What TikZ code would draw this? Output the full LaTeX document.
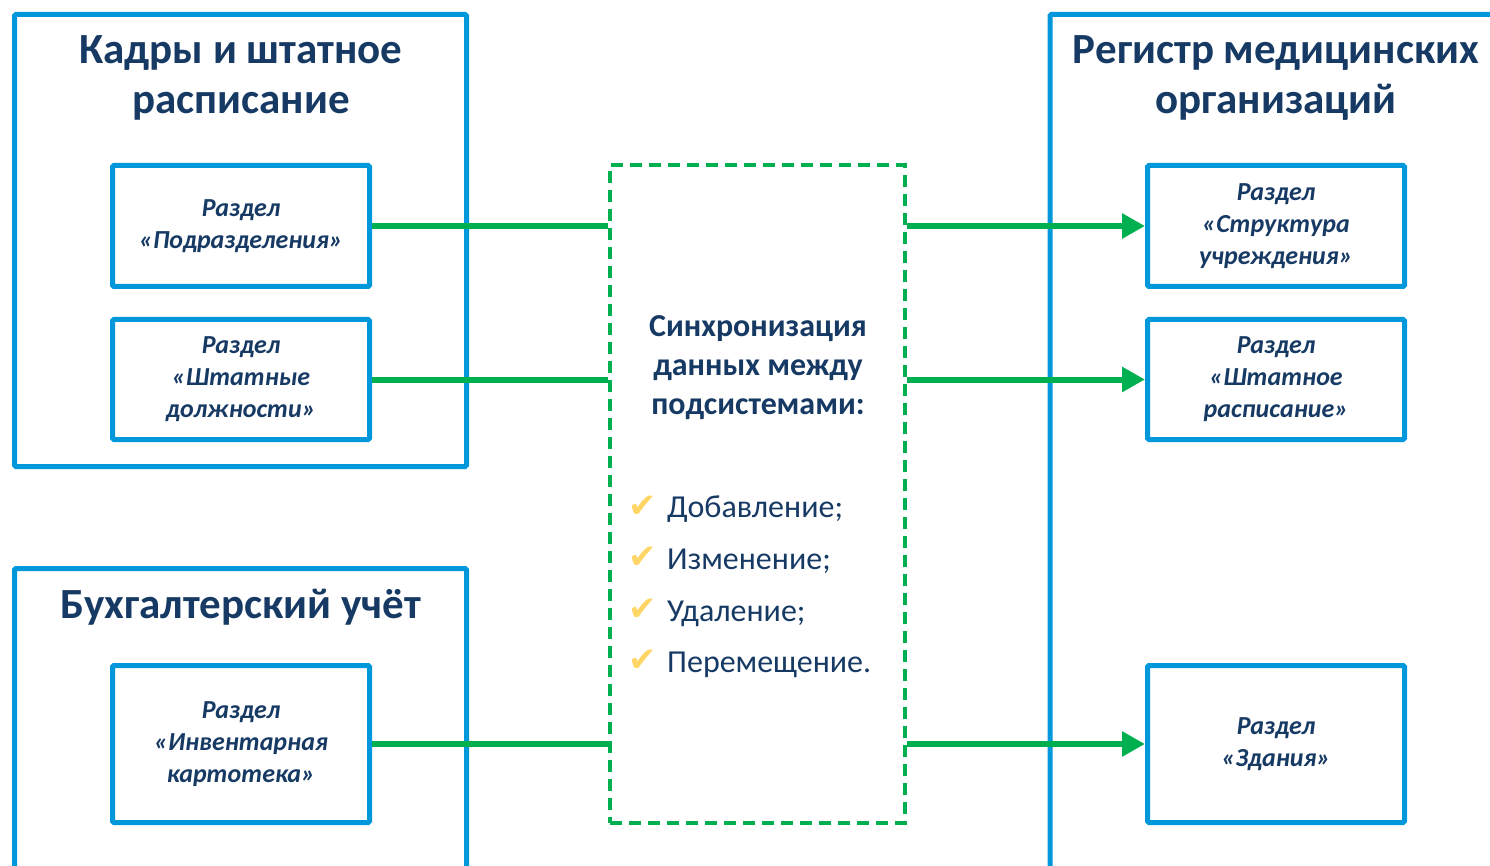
\documentclass[tikz,border=0pt]{standalone}
\usepackage{fontspec}
\setmainfont{Carlito}
\newfontfamily\symfont{DejaVu Sans}
\usetikzlibrary{arrows.meta}

\definecolor{boxblue}{RGB}{0,152,218}
\definecolor{textblue}{RGB}{22,58,100}
\definecolor{linkgreen}{RGB}{0,176,80}
\definecolor{tickyellow}{RGB}{255,214,102}

\tikzset{
  system/.style={draw=boxblue, line width=5pt, rounded corners=1.5pt, inner sep=0pt},
  section/.style={draw=boxblue, line width=5pt, rounded corners=1.5pt, minimum width=257pt,
    text width=245pt, align=center, inner sep=0pt, text=textblue,
    font=\fontsize{26}{32}\selectfont\bfseries\itshape},
  systitle/.style={align=center, text=textblue, font=\fontsize{43}{50}\selectfont\bfseries},
  syncbox/.style={draw=linkgreen, line width=4.5pt, dash pattern=on 12pt off 7pt,
    minimum width=295pt, minimum height=658pt, inner sep=0pt},
  synctitle/.style={align=center, text=textblue, font=\fontsize{32}{39}\selectfont\bfseries},
  item/.style={anchor=mid west, inner sep=0pt, text=textblue, font=\fontsize{32}{36}\selectfont},
  tick/.style={text=tickyellow, inner sep=0pt, font=\symfont\fontsize{34}{34}\selectfont},
  link/.style={draw=linkgreen, line width=6pt},
  linkarrow/.style={link, -{Triangle[length=23pt,width=24pt]}}
}

\begin{document}
\begin{tikzpicture}[x=1pt,y=-1pt]

	\clip (0,0) rectangle (1490,866);

	% subsystems
	\node[system, minimum width=452pt, minimum height=452pt] (kadry) at (240.5,240.5) {};
	\node[system, minimum width=452pt, minimum height=321pt] (buh) at (240.5,729) {};
	\node[system, minimum width=460pt, minimum height=875pt] (reg) at (1280,452) {};

	\node[systitle] (kadrytitle) at (241,78) {Кадры и штатное\\расписание};
	\node[systitle] (buhtitle) at (241,607) {Бухгалтерский учёт};
	\node[systitle] (regtitle) at (1276,78) {Регистр медицинских\\организаций};

	% sections
	\node[section, minimum height=121pt] (podr) at (241,226) {Раздел\\«Подразделения»};
	\node[section, minimum height=120pt] (shtat) at (241,379.5) {Раздел\\«Штатные\\должности»};
	\node[section, minimum height=157pt] (inv) at (241,744) {Раздел\\«Инвентарная\\картотека»};

	\node[section, minimum height=121pt] (struct) at (1276,226) {Раздел\\«Структура\\учреждения»};
	\node[section, minimum height=120pt] (shtrasp) at (1276,379.5) {Раздел\\«Штатное\\расписание»};
	\node[section, minimum height=157pt] (zdan) at (1276,744) {Раздел\\«Здания»};

	% synchronisation
	\node[syncbox] (sync) at (757.5,494) {};
	\node[synctitle] (synctext) at (758,368) {Синхронизация\\данных между\\подсистемами:};

	\node[tick] (t1) at (643,507) {✔};
	\node[tick] (t2) at (643,558) {✔};
	\node[tick] (t3) at (643,610) {✔};
	\node[tick] (t4) at (643,661) {✔};
	\node[item] (add) at (667,515) {Добавление;};
	\node[item] (chg) at (667,567) {Изменение;};
	\node[item] (del) at (667,619) {Удаление;};
	\node[item] (mov) at (667,670) {Перемещение.};

	\draw[link] (podr.east) -- (podr.east -| sync.west);
	\draw[link] (shtat.east) -- (shtat.east -| sync.west);
	\draw[link] (inv.east) -- (inv.east -| sync.west);

	\draw[linkarrow] (struct.west -| sync.east) -- (struct.west);
	\draw[linkarrow] (shtrasp.west -| sync.east) -- (shtrasp.west);
	\draw[linkarrow] (zdan.west -| sync.east) -- (zdan.west);

\end{tikzpicture}
\end{document}
